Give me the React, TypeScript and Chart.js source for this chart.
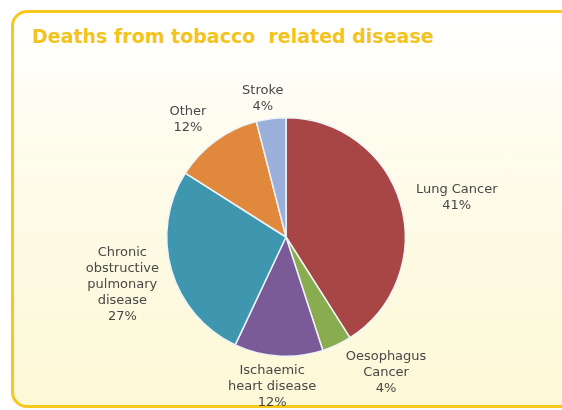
import React, { useEffect, useRef } from "react";
import { Chart, registerables } from "chart.js";

Chart.register(...registerables);

const titleText = "Deaths from tobacco  related disease";
const categories: string[][] = [
  ["Lung Cancer"],
  ["Oesophagus", "Cancer"],
  ["Ischaemic", "heart disease"],
  ["Chronic", "obstructive", "pulmonary", "disease"],
  ["Other"],
  ["Stroke"],
];
const values = [41, 4, 12, 27, 12, 4];
const sliceColors = ["#A84545", "#89AC4E", "#7A5A97", "#3E97AF", "#E0893C", "#9AB0DB"];
// label placement relative to each slice's mid-angle (degrees) and radius multiple
const labelAngleNudge = [3.1, -11.3, 1.7, -0.1, -4, -2.3];
const labelDistance = [1.47, 1.41, 1.26, 1.43, 1.28, 1.18];

const labelPlugin = {
  id: "sliceLabels",
  afterDraw(chart: any) {
    const meta = chart.getDatasetMeta(0);
    const ctx = chart.ctx;
    ctx.save();
    ctx.font = "13px 'DejaVu Sans'";
    ctx.fillStyle = "#474747";
    ctx.textAlign = "center";
    ctx.textBaseline = "middle";
    const total = values.reduce((a, b) => a + b, 0);
    meta.data.forEach((arc: any, i: number) => {
      const p = arc.getProps(["x", "y", "startAngle", "endAngle", "outerRadius"], true);
      const mid = (p.startAngle + p.endAngle) / 2 + (labelAngleNudge[i] * Math.PI) / 180;
      const d = p.outerRadius * labelDistance[i];
      const cx = p.x + Math.cos(mid) * d;
      const cy = p.y + Math.sin(mid) * d;
      const lines = [...categories[i], Math.round((values[i] / total) * 100) + "%"];
      const lh = 16;
      const top = cy - ((lines.length - 1) * lh) / 2;
      lines.forEach((t, j) => ctx.fillText(t, cx, top + j * lh));
    });
    ctx.restore();
  },
};

export default function App() {
  const ref = useRef<HTMLCanvasElement | null>(null);
  useEffect(() => {
    if (!ref.current) return;
    const chart = new Chart(ref.current, {
      type: "pie",
      data: {
        labels: categories.map((c) => c.join(" ")),
        datasets: [
          {
            data: values,
            backgroundColor: sliceColors,
            borderColor: "#EEF3F8",
            borderWidth: 1.5,
            hoverOffset: 0,
          },
        ],
      },
      options: {
        responsive: false,
        animation: false,
        layout: { padding: { left: 166, right: 156, top: 117, bottom: 53 } },
        plugins: { legend: { display: false }, tooltip: { enabled: false }, title: { display: false } },
      },
      plugins: [labelPlugin],
    });
    return () => chart.destroy();
  }, []);

  return (
    <div style={{ position: "fixed", left: 0, top: 0, width: 562, height: 410, background: "#FFFFFF", overflow: "hidden" }}>
      <div
        style={{
          position: "absolute",
          left: 11,
          top: 10,
          width: 580,
          height: 398,
          border: "3px solid #F7C71C",
          borderRadius: 16,
          background: "linear-gradient(#FFFFFF 0%, #FEFCEE 30%, #FDF8D6 100%)",
          boxSizing: "border-box",
        }}
      />
      <div
        style={{
          position: "absolute",
          left: 32,
          top: 25,
          font: "bold 19px 'DejaVu Sans'",
          color: "#F3C31E",
          whiteSpace: "pre",
        }}
      >
        {titleText}
      </div>
      <canvas ref={ref} width={562} height={410} style={{ position: "absolute", left: 0, top: 0 }} />
    </div>
  );
}
